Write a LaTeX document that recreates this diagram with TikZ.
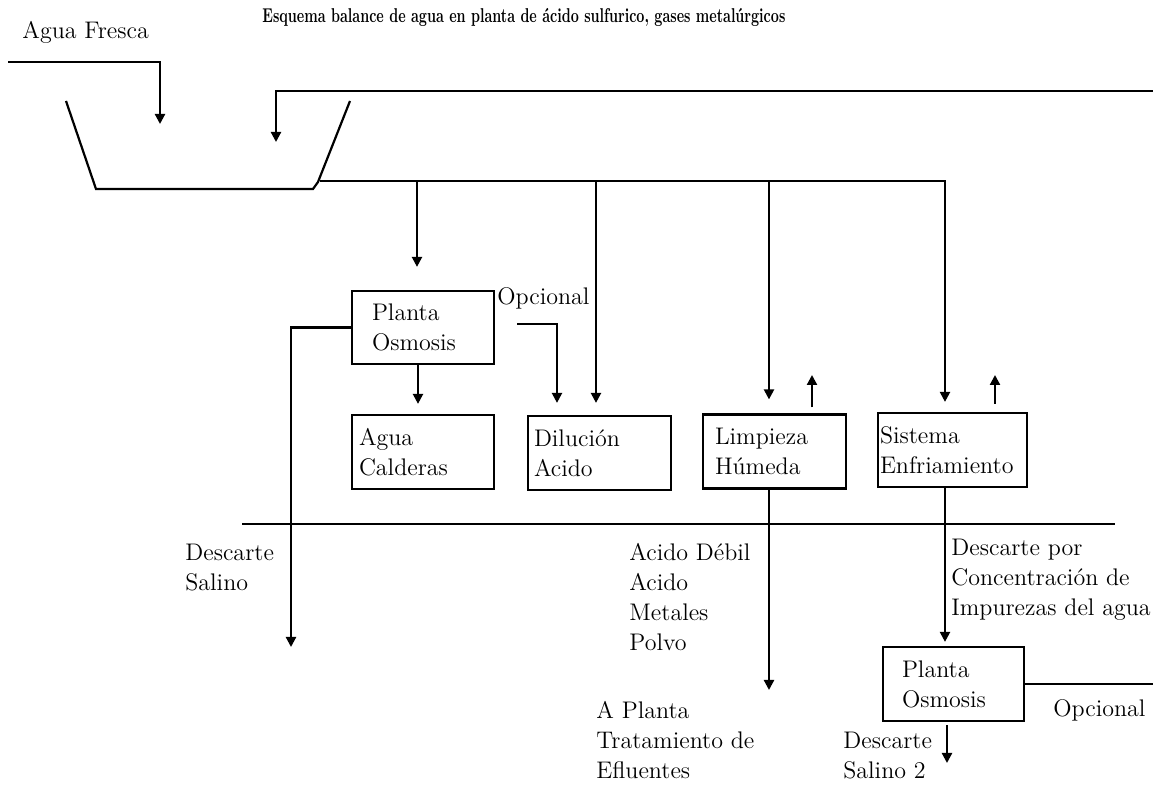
\documentclass[tikz,border=0pt]{standalone}
\usepackage{fontspec}
\usepackage{graphicx}
\usetikzlibrary{arrows.meta}
\tikzset{
	pipe/.style={line width=1.1pt},
	flow/.style={line width=1.1pt, -{Triangle[length=5pt,width=5pt]}},
	box/.style={draw, line width=1.1pt, align=left, inner ysep=0pt, minimum height=37pt},
	lbl/.style={inner sep=0pt, align=left, anchor=west}
}

\begin{document}
\begin{tikzpicture}[x=0.5pt, y=-0.5pt, every node/.style={font=\fontsize{12}{15}\selectfont}]
        \useasboundingbox (0,0) rectangle (1153,785);
        \node [lbl] (titulo) at (262,17) {\resizebox{261.5pt}{\height}{\fontsize{10}{12}\selectfont\bfseries Esquema balance de agua en planta de ácido sulfurico, gases metalúrgicos}};
        \node [lbl] (fresca) at (22,32) {Agua Fresca};
        \node [box, text width=51pt, inner xsep=10pt, minimum height=36.5pt] (osm1) at (423,327.5) {Planta\\Osmosis};
        \node [box, text width=64pt, inner xsep=3.5pt] (cald) at (423,452) {Agua\\Calderas};
        \node [box, text width=65.5pt, inner xsep=3pt] (dil) at (599.5,453) {Dilución\\Acido};
        \node [box, text width=59.5pt, inner xsep=6pt] (limp) at (774.5,451.5) {Limpieza\\Húmeda};
        \node [box, text width=72.5pt, inner xsep=1pt] (sist) at (952.5,450) {Sistema\\Enfriamiento};
        \node [box, text width=51.5pt, inner xsep=9.5pt] (osm2) at (953.5,684) {Planta\\Osmosis};
        \node [lbl] (opc1) at (497,298) {Opcional};
        \node [lbl] (dsal) at (185,567.5) {Descarte\\Salino};
        \node [lbl] (resid) at (629,597) {Acido Débil\\Acido\\Metales\\Polvo};
        \node [lbl] (efl) at (596,740) {A Planta\\Tratamiento de\\Efluentes};
        \node [lbl] (dconc) at (951,580) {Descarte por\\Concentración de\\Impurezas del agua};
        \node [lbl] (opc2) at (1053,710) {Opcional};
        \node [lbl] (dsal2) at (843,756) {Descarte\\Salino 2};

        \coordinate (fw) at (8,62);
        \coordinate (fw1) at (160,124);
        \coordinate (rt) at (1153,91);
        \coordinate (rt1) at (276,142);
        \coordinate (t1) at (320,181);
        \coordinate (d1) at (417,181);
        \coordinate (d2) at (596,181);
        \coordinate (d3) at (769,181);
        \coordinate (d4) at (945,181);
        \coordinate (o1) at (517,324);
        \coordinate (o2) at (557,324);
        \coordinate (s1) at (291,0);
        \coordinate (s2) at (291,647);
        \coordinate (v1) at (812,375);
        \coordinate (v2) at (995,375);
        \coordinate (hl) at (242,524);
        \coordinate (hr) at (1115,524);
        \coordinate (e1) at (769,690);
        \coordinate (r1) at (1153,0);
        \coordinate (b1) at (947,763);

        \draw [pipe] (66,101) -- (96,189) -- (313,189) -- (318,182) -- (350,101);
        \draw [flow] (fw) -- (fw -| fw1) -- (fw1);
        \draw [flow] (rt) -- (rt -| rt1) -- (rt1);
        \draw [flow, shorten >=5pt] (t1) -- (d4) -- (d4 |- sist.north);
        \draw [flow, shorten >=11.5pt] (d1) -- (d1 |- osm1.north);
        \draw [flow, shorten >=6pt] (d2) -- (d2 |- dil.north);
        \draw [flow, shorten >=7pt] (d3) -- (d3 |- limp.north);
        \draw [flow, shorten <=3pt] (limp.north -| v1) -- (v1);
        \draw [flow, shorten <=4pt] (sist.north -| v2) -- (v2);
        \draw [flow, shorten >=5pt] ([xshift=-2.5pt]osm1.south) -- ([xshift=-2.5pt]cald.north);
        \draw [flow, shorten >=6pt] (o1) -- (o2) -- (o2 |- dil.north);
        \draw [flow] (osm1.west) -- (osm1.west -| s1) -- (s2);
        \draw [pipe] (hl) -- (hr);
        \draw [flow] (limp.south -| e1) -- (e1);
        \draw [flow, shorten >=2pt] (sist.south -| d4) -- (d4 |- osm2.north);
        \draw [pipe] (osm2.east) -- (osm2.east -| r1);
        \draw [flow, shorten <=1.5pt] (osm2.south -| b1) -- (b1);
    \end{tikzpicture}
\end{document}
